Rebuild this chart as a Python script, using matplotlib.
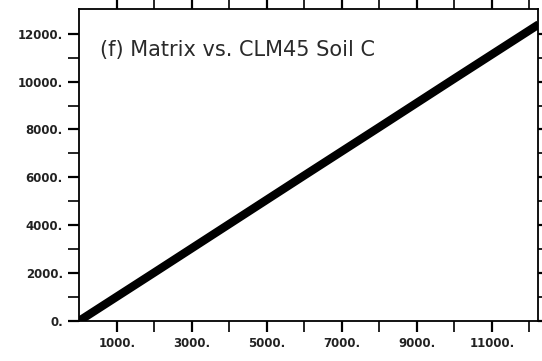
#!/usr/bin/env python3

from matplotlib import pyplot as plt
from matplotlib.ticker import FixedLocator

# CLM45 soil C (x) vs. matrix soil C (y)
clm45_soil_c = [0, 2000, 4000, 6000, 8000, 10000, 12250]
matrix_soil_c = [0, 2020, 4050, 6080, 8100, 10130, 12400]

x_labels = [1000, 3000, 5000, 7000, 9000, 11000]
y_labels = [0, 2000, 4000, 6000, 8000, 10000, 12000]

title = "(f) Matrix vs. CLM45 Soil C"

fig = plt.figure(figsize=(5.42, 3.61), dpi=100)
ax = fig.add_axes([0.1466, 0.1116, 0.8460, 0.8634])

ax.plot(clm45_soil_c, matrix_soil_c, '-', color='black', linewidth=6, solid_capstyle='butt')

ax.set_xlim(0, 12230)
ax.set_ylim(0, 13040)

ax.xaxis.set_major_locator(FixedLocator(x_labels))
ax.xaxis.set_minor_locator(FixedLocator([v + 1000 for v in x_labels]))
ax.yaxis.set_major_locator(FixedLocator(y_labels))
ax.yaxis.set_minor_locator(FixedLocator([v + 1000 for v in y_labels[:-1]]))
ax.set_xticklabels([f"{v}." for v in x_labels])
ax.set_yticklabels([f"{v}." for v in y_labels])

ax.tick_params(which='both', direction='out', top=True, right=True,
               length=8, color='black')
ax.tick_params(which='major', width=1.6, labelsize=8.5, pad=4)
ax.tick_params(which='minor', width=1.2)
for lbl in ax.get_xticklabels() + ax.get_yticklabels():
    lbl.set_fontweight('bold')
    lbl.set_color('#222222')

for s in ax.spines.values():
    s.set_linewidth(1.3)

ax.text(0.045, 0.868, title, transform=ax.transAxes, fontsize=15,
        color='#2a2a2a', va='center', ha='left')

fig.savefig('out.png', dpi=100)
